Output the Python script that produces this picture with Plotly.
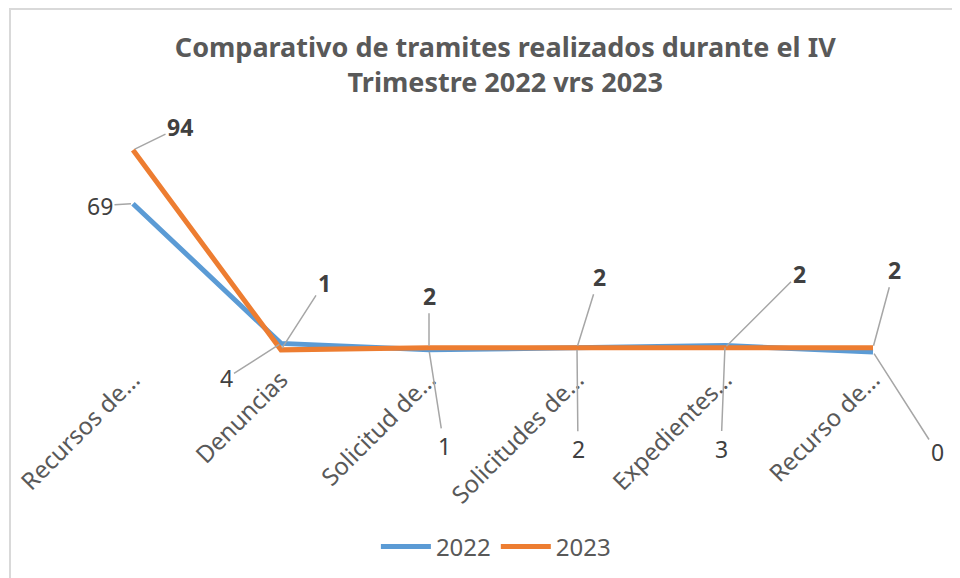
"""
Comparativo de tramites IV Trimestre 2022 vs 2023
Excel-style line chart with data labels and leader lines
"""

import plotly.graph_objects as go

# Data
categorias = ['Recursos de…', 'Denuncias', 'Solicitud de…',
              'Solicitudes de…', 'Expedientes…', 'Recurso de…']
valores_2022 = [69, 4, 1, 2, 3, 0]
valores_2023 = [94, 1, 2, 2, 2, 2]

# label offsets (px) for the data labels, like Excel's dragged labels
offsets_2022 = [(-33, 2), (-55, 35), (15, 96), (1, 101), (-4, 103), (64, 100)]
offsets_2023 = [(47, -23), (43, -67), (0, -52), (22, -71), (74, -74), (21, -78)]

AZUL = '#5B9BD5'
NARANJA = '#ED7D31'
FUENTE = 'Noto Sans'

fig = go.Figure()
fig.add_trace(go.Scatter(
    x=categorias, y=valores_2022, mode='lines', name='2022',
    line=dict(color=AZUL, width=5)
))
fig.add_trace(go.Scatter(
    x=categorias, y=valores_2023, mode='lines', name='2023',
    line=dict(color=NARANJA, width=5)
))

# data labels with leader lines
for valores, offsets, bold in [(valores_2022, offsets_2022, False),
                               (valores_2023, offsets_2023, True)]:
    for cat, val, (dx, dy) in zip(categorias, valores, offsets):
        txt = f'<b>{val}</b>' if bold else str(val)
        fig.add_annotation(
            x=cat, y=val, text=txt, showarrow=True,
            ax=dx, ay=dy, arrowhead=0, arrowwidth=1.5,
            arrowcolor='#A6A6A6', standoff=2,
            font=dict(family=FUENTE, size=23, color='#404040')
        )

# chart border (left and top visible)
fig.add_shape(type='rect', xref='paper', yref='paper',
              x0=-0.0552, x1=1.05, y0=-1.2, y1=1.595,
              line=dict(color='#D9D9D9', width=2), layer='below')

fig.update_layout(
    width=960, height=578,
    margin=dict(l=51, r=21, t=132, b=226, autoexpand=False),
    paper_bgcolor='white', plot_bgcolor='white',
    title=dict(
        text='Comparativo de tramites realizados durante el IV<br>Trimestre 2022 vrs 2023',
        x=0.518, xanchor='center', y=0.915, yanchor='middle',
        font=dict(family=FUENTE, size=27, color='#595959', weight='bold')
    ),
    showlegend=True,
    legend=dict(
        orientation='h', x=0.492, xanchor='center', y=-0.85, yanchor='middle',
        itemwidth=50,
        font=dict(family=FUENTE, size=24, color='#595959')
    ),
    xaxis=dict(
        range=[-0.5, 5.5], automargin=False,
        showgrid=False, zeroline=False, showline=False, ticks='',
        tickangle=-45,
        tickfont=dict(family=FUENTE, size=24, color='#595959')
    ),
    yaxis=dict(
        range=[-3.72, 98.65], visible=False, showgrid=False, zeroline=False,
        automargin=False
    )
)

fig.write_html('out.html')
print('ok')
